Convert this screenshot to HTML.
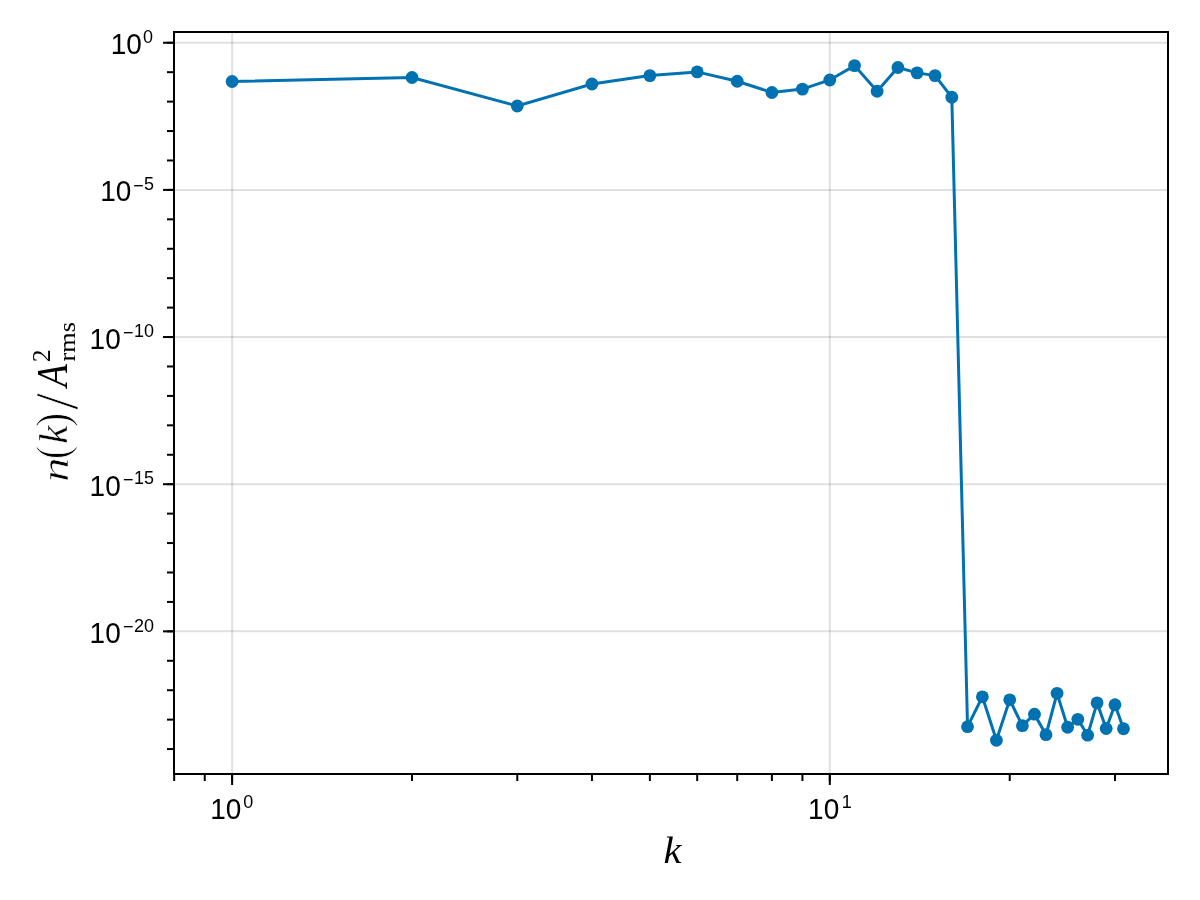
<!DOCTYPE html>
<html lang="en"><head><meta charset="utf-8"><title>n(k) spectrum</title>
<style>
html,body{margin:0;padding:0;background:#fff;}
body{width:1200px;height:900px;overflow:hidden;}
svg{display:block;}
.t{font-family:"Liberation Sans",sans-serif;font-size:28px;fill:#000;}
.s{font-family:"Liberation Sans",sans-serif;font-size:18px;fill:#000;}
.m{font-family:"Liberation Serif",serif;font-style:italic;fill:#000;}
.r{font-family:"Liberation Serif",serif;fill:#000;}
</style></head><body>
<svg width="1200" height="900" viewBox="0 0 1200 900">
<rect x="0" y="0" width="1200" height="900" fill="#fff"/>
<g stroke="#000" stroke-opacity="0.12" stroke-width="2" fill="none">
<line x1="174" x2="1168" y1="42.75" y2="42.75"/>
<line x1="174" x2="1168" y1="189.90" y2="189.90"/>
<line x1="174" x2="1168" y1="337.05" y2="337.05"/>
<line x1="174" x2="1168" y1="484.20" y2="484.20"/>
<line x1="174" x2="1168" y1="631.35" y2="631.35"/>
<line x1="232.10" x2="232.10" y1="32" y2="774"/>
<line x1="829.80" x2="829.80" y1="32" y2="774"/>
</g>
<polyline fill="none" stroke="#0072B2" stroke-width="3" stroke-linejoin="miter" points="232.10,81.50 412.03,77.50 517.28,106.00 591.95,84.00 649.87,75.60 697.20,71.90 737.22,81.25 771.88,92.50 802.45,89.10 829.80,80.00 854.54,65.60 877.13,91.25 897.90,67.50 917.14,72.90 935.05,75.60 951.80,97.25 967.54,726.70 982.38,696.80 996.41,740.25 1009.73,699.80 1022.39,725.70 1034.47,714.20 1046.00,734.70 1057.05,693.30 1067.65,727.25 1077.83,719.30 1087.63,735.20 1097.07,702.90 1106.18,728.50 1114.98,704.75 1123.49,728.75"/>
<g fill="#0072B2"><circle cx="232.10" cy="81.50" r="6.4"/><circle cx="412.03" cy="77.50" r="6.4"/><circle cx="517.28" cy="106.00" r="6.4"/><circle cx="591.95" cy="84.00" r="6.4"/><circle cx="649.87" cy="75.60" r="6.4"/><circle cx="697.20" cy="71.90" r="6.4"/><circle cx="737.22" cy="81.25" r="6.4"/><circle cx="771.88" cy="92.50" r="6.4"/><circle cx="802.45" cy="89.10" r="6.4"/><circle cx="829.80" cy="80.00" r="6.4"/><circle cx="854.54" cy="65.60" r="6.4"/><circle cx="877.13" cy="91.25" r="6.4"/><circle cx="897.90" cy="67.50" r="6.4"/><circle cx="917.14" cy="72.90" r="6.4"/><circle cx="935.05" cy="75.60" r="6.4"/><circle cx="951.80" cy="97.25" r="6.4"/><circle cx="967.54" cy="726.70" r="6.4"/><circle cx="982.38" cy="696.80" r="6.4"/><circle cx="996.41" cy="740.25" r="6.4"/><circle cx="1009.73" cy="699.80" r="6.4"/><circle cx="1022.39" cy="725.70" r="6.4"/><circle cx="1034.47" cy="714.20" r="6.4"/><circle cx="1046.00" cy="734.70" r="6.4"/><circle cx="1057.05" cy="693.30" r="6.4"/><circle cx="1067.65" cy="727.25" r="6.4"/><circle cx="1077.83" cy="719.30" r="6.4"/><circle cx="1087.63" cy="735.20" r="6.4"/><circle cx="1097.07" cy="702.90" r="6.4"/><circle cx="1106.18" cy="728.50" r="6.4"/><circle cx="1114.98" cy="704.75" r="6.4"/><circle cx="1123.49" cy="728.75" r="6.4"/></g>
<g stroke="#000" stroke-width="2" fill="none">
<line x1="163" x2="174" y1="42.75" y2="42.75"/>
<line x1="163" x2="174" y1="189.90" y2="189.90"/>
<line x1="163" x2="174" y1="337.05" y2="337.05"/>
<line x1="163" x2="174" y1="484.20" y2="484.20"/>
<line x1="163" x2="174" y1="631.35" y2="631.35"/>
<line x1="167" x2="174" y1="42.75" y2="42.75"/>
<line x1="167" x2="174" y1="72.18" y2="72.18"/>
<line x1="167" x2="174" y1="101.61" y2="101.61"/>
<line x1="167" x2="174" y1="131.04" y2="131.04"/>
<line x1="167" x2="174" y1="160.47" y2="160.47"/>
<line x1="167" x2="174" y1="189.90" y2="189.90"/>
<line x1="167" x2="174" y1="219.33" y2="219.33"/>
<line x1="167" x2="174" y1="248.76" y2="248.76"/>
<line x1="167" x2="174" y1="278.19" y2="278.19"/>
<line x1="167" x2="174" y1="307.62" y2="307.62"/>
<line x1="167" x2="174" y1="337.05" y2="337.05"/>
<line x1="167" x2="174" y1="366.48" y2="366.48"/>
<line x1="167" x2="174" y1="395.91" y2="395.91"/>
<line x1="167" x2="174" y1="425.34" y2="425.34"/>
<line x1="167" x2="174" y1="454.77" y2="454.77"/>
<line x1="167" x2="174" y1="484.20" y2="484.20"/>
<line x1="167" x2="174" y1="513.63" y2="513.63"/>
<line x1="167" x2="174" y1="543.06" y2="543.06"/>
<line x1="167" x2="174" y1="572.49" y2="572.49"/>
<line x1="167" x2="174" y1="601.92" y2="601.92"/>
<line x1="167" x2="174" y1="631.35" y2="631.35"/>
<line x1="167" x2="174" y1="660.78" y2="660.78"/>
<line x1="167" x2="174" y1="690.21" y2="690.21"/>
<line x1="167" x2="174" y1="719.64" y2="719.64"/>
<line x1="167" x2="174" y1="749.07" y2="749.07"/>
<line x1="232.10" x2="232.10" y1="774" y2="785"/>
<line x1="829.80" x2="829.80" y1="774" y2="785"/>
<line x1="174.18" x2="174.18" y1="774" y2="781"/>
<line x1="204.75" x2="204.75" y1="774" y2="781"/>
<line x1="232.10" x2="232.10" y1="774" y2="781"/>
<line x1="412.03" x2="412.03" y1="774" y2="781"/>
<line x1="517.28" x2="517.28" y1="774" y2="781"/>
<line x1="591.95" x2="591.95" y1="774" y2="781"/>
<line x1="649.87" x2="649.87" y1="774" y2="781"/>
<line x1="697.20" x2="697.20" y1="774" y2="781"/>
<line x1="737.22" x2="737.22" y1="774" y2="781"/>
<line x1="771.88" x2="771.88" y1="774" y2="781"/>
<line x1="802.45" x2="802.45" y1="774" y2="781"/>
<line x1="829.80" x2="829.80" y1="774" y2="781"/>
<line x1="1009.73" x2="1009.73" y1="774" y2="781"/>
<line x1="1114.98" x2="1114.98" y1="774" y2="781"/>
</g>
<rect x="174" y="32" width="994" height="742" fill="none" stroke="#000" stroke-width="2"/>
<text transform="translate(110.70,54.20) scale(1,1.055)"><tspan class="t" x="0" y="0">10</tspan><tspan class="s" x="32.30" y="-10.62">0</tspan></text>
<text transform="translate(100.20,201.35) scale(1,1.055)"><tspan class="t" x="0" y="0">10</tspan><tspan class="s" x="33.00" y="-8.91">−</tspan><tspan class="s" text-anchor="end" x="53.80" y="-10.62">5</tspan></text>
<text transform="translate(89.60,348.50) scale(1,1.055)"><tspan class="t" x="0" y="0">10</tspan><tspan class="s" x="33.40" y="-8.91">−</tspan><tspan class="s" text-anchor="end" x="64.40" y="-10.62">10</tspan></text>
<text transform="translate(89.60,495.65) scale(1,1.055)"><tspan class="t" x="0" y="0">10</tspan><tspan class="s" x="33.40" y="-8.91">−</tspan><tspan class="s" text-anchor="end" x="64.40" y="-10.62">15</tspan></text>
<text transform="translate(89.60,642.80) scale(1,1.055)"><tspan class="t" x="0" y="0">10</tspan><tspan class="s" x="33.40" y="-8.91">−</tspan><tspan class="s" text-anchor="end" x="64.40" y="-10.62">20</tspan></text>
<text transform="translate(210.20,819.00) scale(1,1.055)"><tspan class="t" x="0" y="0">10</tspan><tspan class="s" x="33.00" y="-10.62">0</tspan></text>
<text transform="translate(808.10,819.00) scale(1,1.055)"><tspan class="t" x="0" y="0">10</tspan><tspan class="s" x="33.60" y="-10.62">1</tspan></text>
<text class="m" font-size="40" transform="translate(663.49,863.20) scale(1.0116,0.9710)">k</text>
<g transform="translate(67,480) rotate(-90)">
<text class="m" font-size="40" stroke="#fff" stroke-width="0.7" vector-effect="non-scaling-stroke" transform="translate(-2.08,0.54) scale(1.2324,0.9651)">n</text>
<text class="r" font-size="40" stroke="#fff" stroke-width="0.9" vector-effect="non-scaling-stroke" transform="translate(20.71,0.88) scale(1.0196,1.1389)">(</text>
<text class="m" font-size="40" stroke="#fff" stroke-width="0.4" vector-effect="non-scaling-stroke" transform="translate(36.32,0.20) scale(1.0262,0.9964)">k</text>
<text class="r" font-size="40" stroke="#fff" stroke-width="0.9" vector-effect="non-scaling-stroke" transform="translate(53.29,0.88) scale(1.0481,1.1389)">)</text>
<text class="r" font-size="40" stroke="#fff" stroke-width="0.8" vector-effect="non-scaling-stroke" transform="translate(70.35,9.88) scale(1.5045,1.5414)">/</text>
<text class="m" font-size="40" transform="translate(93.05,0.00) scale(0.9328,1.1069)">A</text>
<text class="r" font-size="40" transform="translate(117.85,-17.00) scale(0.6406,0.6288)">2</text>
<text class="r" font-size="40" transform="translate(118.47,8.01) scale(0.6574,0.5990)">rms</text>
</g>
</svg></body></html>
